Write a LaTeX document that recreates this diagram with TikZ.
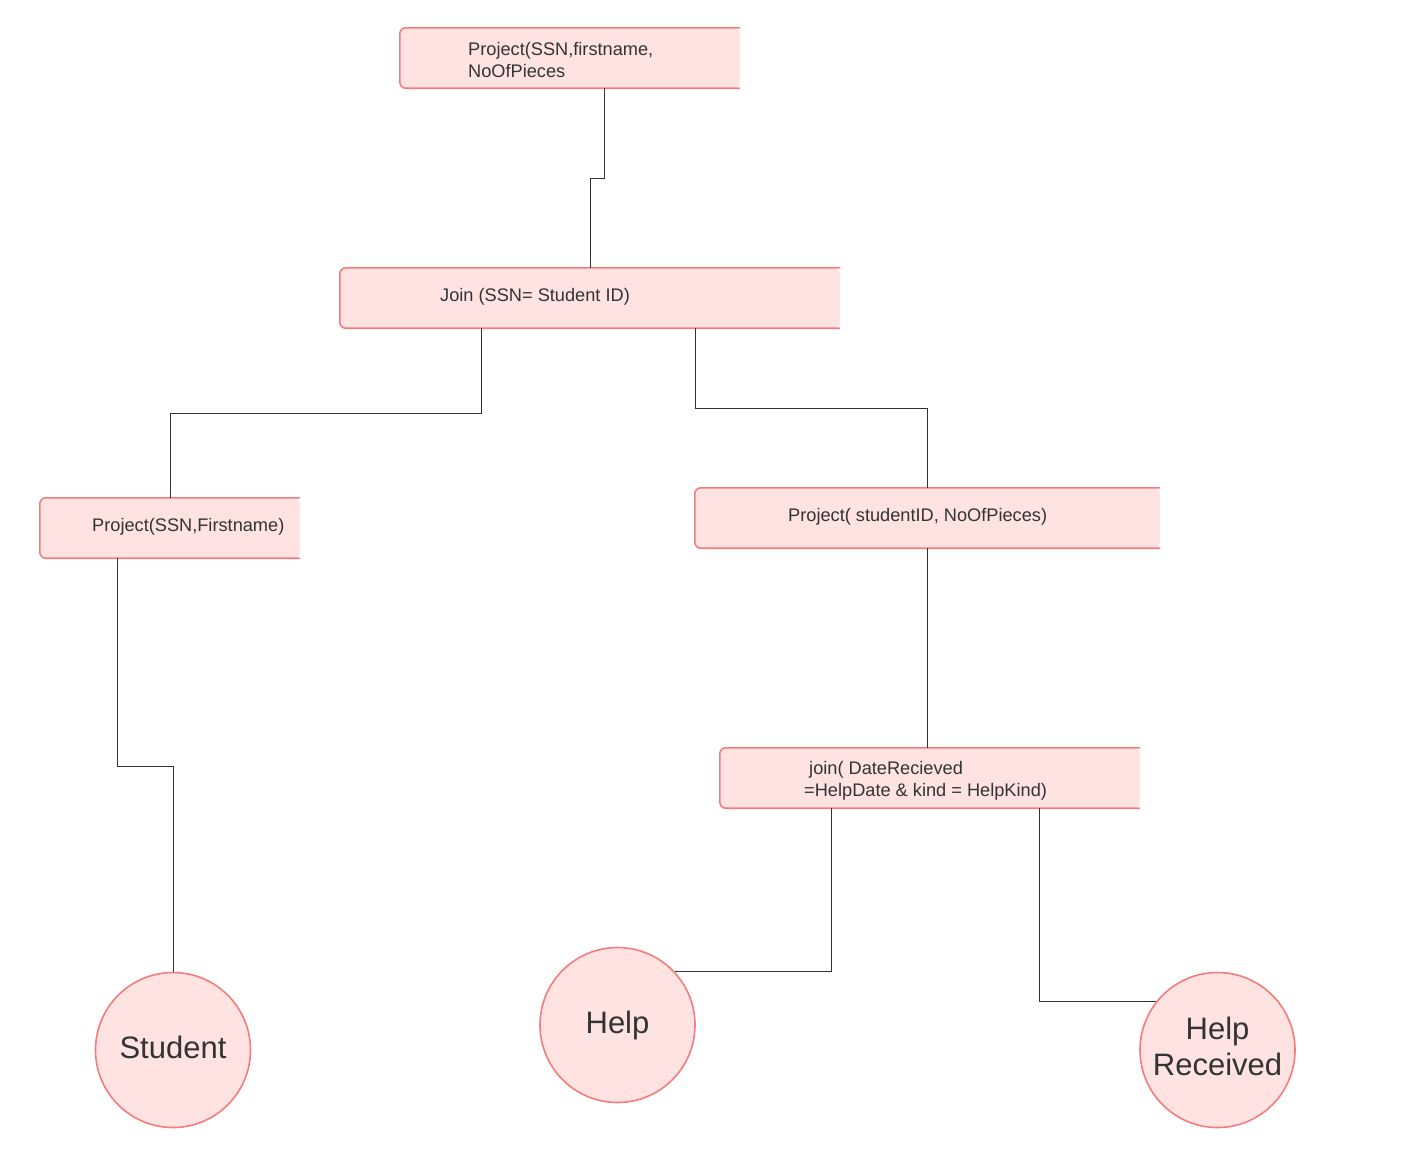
\documentclass[tikz,border=0pt]{standalone}
\usepackage{fontspec}
\setmainfont{Liberation Sans}
\definecolor{opfill}{HTML}{FFE3E3}
\definecolor{opline}{HTML}{F47C7C}
\definecolor{inkgray}{HTML}{333333}
% outline of an operator box, open on its right side
\newcommand{\opedge}[1]{\draw[opborder] (#1.north east) -- (#1.north west) -- (#1.south west) -- (#1.south east);}

\begin{document}
\begin{tikzpicture}[
        x=1pt,
        y=-1pt,
        every node/.style={text=inkgray, font=\fontsize{18.2}{22}\selectfont},
        opbox/.style={fill=opfill, rounded corners=6pt, inner sep=0pt, minimum height=60pt},
        opborder/.style={draw=opline, line width=1.6pt, rounded corners=6pt},
        optext/.style={anchor=west, align=left, inner sep=0pt},
        relation/.style={circle, fill=opfill, draw=opline, line width=1.6pt, minimum size=155pt,
            inner sep=0pt, align=center, font=\fontsize{31}{37}\selectfont},
        link/.style={draw=inkgray, line width=0.8pt}
    ]
        \useasboundingbox (0,0) rectangle (1407,1168);

        % Operator boxes
        \node[opbox, minimum width=340pt] (projtop) at (570,58){};
        \node[opbox, minimum width=500pt] (join) at (590,298){};
        \node[opbox, minimum width=260pt] (projstud) at (170,528){};
        \node[opbox, minimum width=465pt] (projhelp) at (927.5,518){};
        \node[opbox, minimum width=420pt] (joinhelp) at (930,778){};
        \opedge{projtop}
        \opedge{join}
        \opedge{projstud}
        \opedge{projhelp}
        \opedge{joinhelp}

        % Box texts
        \node[optext] (projtoptxt) at (468,60){Project(SSN,firstname,\\NoOfPieces};
        \node[optext] (jointxt) at (440,297){Join (SSN= Student ID)};
        \node[optext] (projstudtxt) at (92,527){Project(SSN,Firstname)};
        \node[optext] (projhelptxt) at (788,517){Project( studentID, NoOfPieces)};
        \node[optext] (joinhelptxt) at (804,781){\hspace*{5pt}join( DateRecieved\\=HelpDate \& kind = HelpKind)};

        % Relations
        \node[relation] (student) at (173,1050){\raisebox{5pt}{Student}};
        \node[relation] (help) at (617.5,1025){\raisebox{1pt}{Help}};
        \node[relation] (helprec) at (1217.5,1050){\raisebox{4pt}{\begin{tabular}{@{}c@{}}Help\\[-1pt]Received\end{tabular}}};

        % Connectors
        \draw[link] ([xshift=34pt]projtop.south) -- ++(0,90) -| (join.north);
        \draw[link] ([xshift=-109pt]join.south) -- ++(0,85) -| (projstud.north);
        \draw[link] ([xshift=105pt]join.south) -- ++(0,80) -| (projhelp.north);
        \draw[link] (projhelp.south) -- (projhelp.south |- joinhelp.north);
        \draw[link] ([xshift=-53pt]projstud.south) -- ++(0,208) -| (student.north);
        \draw[link] ([xshift=-99pt]joinhelp.south) |- (help.43);
        \draw[link] ([xshift=109pt]joinhelp.south) |- (helprec.142);
    \end{tikzpicture}
\end{document}
